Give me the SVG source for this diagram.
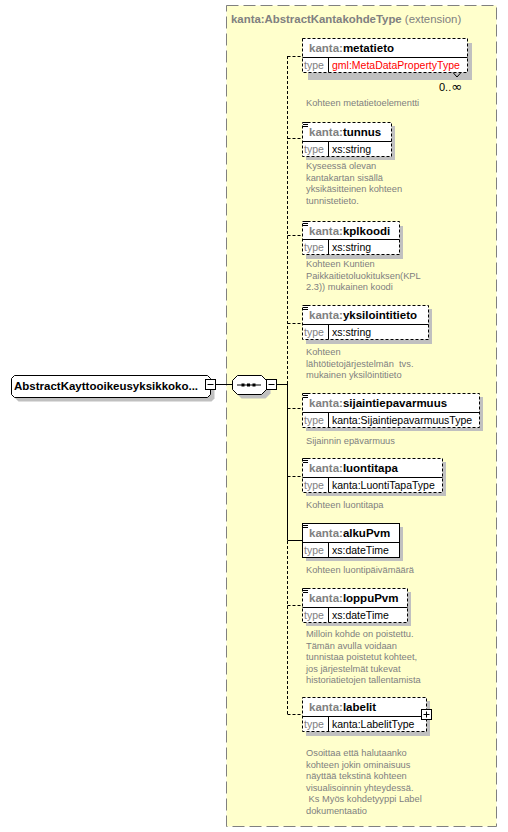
<svg xmlns="http://www.w3.org/2000/svg" width="508" height="832" viewBox="0 0 508 832">
<style>
text{font-family:"Liberation Sans",Arial,sans-serif}
.box{fill:#fff;stroke:#000;stroke-width:1}
.opt{stroke-dasharray:3,2}
.sh{fill:#c0c0c0}
.ln{stroke:#000;stroke-width:1;fill:none}
.dl{stroke:#000;stroke-width:1;fill:none;stroke-dasharray:3,2}
.nm{font-size:11.5px;font-weight:bold;fill:#000}
.pre{fill:#808080}
.tl{font-size:10.5px;fill:#808080}
.tv{font-size:10.5px;fill:#000}
.desc{font-size:9.3px;fill:#808080}
.ico{stroke:#000;stroke-width:1}
</style>
<rect x="0" y="0" width="508" height="832" fill="#fff"/>
<g id="extension">
<rect x="226.5" y="5.5" width="270" height="821" fill="#ffffcc" stroke="#808080" stroke-dasharray="12,5"/>
<text x="231" y="23" font-size="11.4px" fill="#808080"><tspan font-weight="bold">kanta:AbstractKantakohdeType</tspan> (extension)</text>
</g>
<g id="connectors">
<line class="ln" x1="215.5" y1="384.5" x2="232.5" y2="384.5"/>
<line class="ln" x1="276.5" y1="384.5" x2="287.5" y2="384.5"/>
<line class="dl" x1="287.5" y1="56" x2="287.5" y2="384"/>
<line class="ln" x1="287.5" y1="384" x2="287.5" y2="540.5"/>
<line class="dl" x1="287.5" y1="541" x2="287.5" y2="714"/>
<line class="dl" x1="287.5" y1="56.5" x2="302" y2="56.5"/>
<line class="dl" x1="287.5" y1="138.5" x2="302" y2="138.5"/>
<line class="dl" x1="287.5" y1="235.5" x2="302" y2="235.5"/>
<line class="dl" x1="287.5" y1="323.5" x2="302" y2="323.5"/>
<line class="dl" x1="287.5" y1="408.5" x2="302" y2="408.5"/>
<line class="dl" x1="287.5" y1="476.5" x2="302" y2="476.5"/>
<line class="ln" x1="287.5" y1="540.5" x2="302" y2="540.5"/>
<line class="dl" x1="287.5" y1="605.5" x2="302" y2="605.5"/>
<line class="dl" x1="287.5" y1="714.5" x2="302" y2="714.5"/>
</g>
<g id="root">
<polygon class="sh" points="18.5,379.5 211.5,379.5 214.5,382.5 214.5,398.5 211.5,401.5 18.5,401.5 15.5,398.5 15.5,382.5"/>
<polygon class="box" points="14.5,375.5 207.5,375.5 210.5,378.5 210.5,394.5 207.5,397.5 14.5,397.5 11.5,394.5 11.5,378.5"/>
<text class="nm" x="14" y="390">AbstractKayttooikeusyksikkoko...</text>
<rect class="box" x="205.5" y="379.5" width="10" height="10"/>
<line class="ln" x1="207.5" y1="384.5" x2="213.5" y2="384.5"/>
</g>
<g id="sequence">
<polygon class="sh" points="241.5,379.5 265.5,379.5 270.5,384.5 270.5,393.5 265.5,398.5 241.5,398.5 236.5,393.5 236.5,384.5"/>
<polygon class="box" points="237.5,375.5 261.5,375.5 266.5,380.5 266.5,389.5 261.5,394.5 237.5,394.5 232.5,389.5 232.5,380.5"/>
<line class="ln" x1="237" y1="385" x2="261" y2="385"/>
<rect x="241.5" y="383.5" width="3" height="3" fill="#000"/>
<rect x="247" y="383.5" width="3" height="3" fill="#000"/>
<rect x="252.5" y="383.5" width="3" height="3" fill="#000"/>
<rect class="box" x="266.5" y="379.5" width="10" height="10"/>
<line class="ln" x1="268.5" y1="384.5" x2="274.5" y2="384.5"/>
</g>
<g id="metatieto">
<rect class="sh" x="308" y="43" width="164" height="37"/>
<rect class="box opt" x="302.5" y="38.5" width="165" height="34"/>
<line class="ln" x1="302.5" y1="57.5" x2="467.5" y2="57.5" stroke="#404040"/>
<line class="ln" x1="328.5" y1="57.5" x2="328.5" y2="72.5"/>
<path class="ln" d="M453,72.5 L457,77 L461,72.5"/>
<text class="nm" x="309" y="52"><tspan class="pre">kanta:</tspan>metatieto</text>
<text class="tl" x="304" y="69">type</text>
<text class="tv" x="332" y="69" style="fill:#ff0000">gml:MetaDataPropertyType</text>
<text x="439" y="91" font-size="11px" fill="#000">0..<tspan font-family="'DejaVu Sans',sans-serif" font-size="13px">∞</tspan></text>
<text class="desc" x="306" y="106">Kohteen metatietoelementti</text>
</g>
<g id="tunnus">
<rect class="sh" x="306" y="126" width="89" height="34"/>
<rect class="box opt" x="302.5" y="122.5" width="89" height="34"/>
<line class="ln" x1="302.5" y1="141.5" x2="391.5" y2="141.5" stroke="#404040"/>
<line class="ln" x1="328.5" y1="141.5" x2="328.5" y2="156.5"/>
<path class="ico" d="M303,122.5h5M303,124.5h5M303,126.5h5"/>
<text class="nm" x="309" y="136"><tspan class="pre">kanta:</tspan>tunnus</text>
<text class="tl" x="304" y="153">type</text>
<text class="tv" x="332" y="153">xs:string</text>
<text class="desc" x="306" y="169">Kyseessä olevan</text>
<text class="desc" x="306" y="180.5">kantakartan sisällä</text>
<text class="desc" x="306" y="192">yksikäsitteinen kohteen</text>
<text class="desc" x="306" y="203.5">tunnistetieto.</text>
</g>
<g id="kplkoodi">
<rect class="sh" x="306" y="226" width="97" height="33"/>
<rect class="box opt" x="302.5" y="221.5" width="97" height="33"/>
<line class="ln" x1="302.5" y1="239.5" x2="399.5" y2="239.5" stroke="#404040"/>
<line class="ln" x1="328.5" y1="239.5" x2="328.5" y2="254.5"/>
<path class="ico" d="M303,221.5h5M303,223.5h5M303,225.5h5"/>
<text class="nm" x="309" y="235"><tspan class="pre">kanta:</tspan>kplkoodi</text>
<text class="tl" x="304" y="251">type</text>
<text class="tv" x="332" y="251">xs:string</text>
<text class="desc" x="306" y="267">Kohteen Kuntien</text>
<text class="desc" x="306" y="278.5">Paikkaitietoluokituksen(KPL</text>
<text class="desc" x="306" y="290">2.3)) mukainen koodi</text>
</g>
<g id="yksilointitieto">
<rect class="sh" x="306" y="309" width="126" height="35"/>
<rect class="box opt" x="302.5" y="305.5" width="126" height="34"/>
<line class="ln" x1="302.5" y1="324.5" x2="428.5" y2="324.5" stroke="#404040"/>
<line class="ln" x1="328.5" y1="324.5" x2="328.5" y2="339.5"/>
<path class="ico" d="M303,305.5h5M303,307.5h5M303,309.5h5"/>
<text class="nm" x="309" y="319"><tspan class="pre">kanta:</tspan>yksilointitieto</text>
<text class="tl" x="304" y="336">type</text>
<text class="tv" x="332" y="336">xs:string</text>
<text class="desc" x="306" y="355">Kohteen</text>
<text class="desc" x="306" y="366.5" xml:space="preserve">lähtötietojärjestelmän  tvs.</text>
<text class="desc" x="306" y="378">mukainen yksilöintitieto</text>
</g>
<g id="sijaintiepavarmuus">
<rect class="sh" x="306" y="397" width="177" height="34"/>
<rect class="box opt" x="302.5" y="393.5" width="177" height="34"/>
<line class="ln" x1="302.5" y1="412.5" x2="479.5" y2="412.5" stroke="#404040"/>
<line class="ln" x1="328.5" y1="412.5" x2="328.5" y2="427.5"/>
<path class="ico" d="M303,393.5h5M303,395.5h5M303,397.5h5"/>
<text class="nm" x="309" y="407"><tspan class="pre">kanta:</tspan>sijaintiepavarmuus</text>
<text class="tl" x="304" y="424">type</text>
<text class="tv" x="332" y="424">kanta:SijaintiepavarmuusType</text>
<text class="desc" x="306" y="444">Sijainnin epävarmuus</text>
</g>
<g id="luontitapa">
<rect class="sh" x="306" y="462" width="140" height="34"/>
<rect class="box opt" x="302.5" y="458.5" width="140" height="34"/>
<line class="ln" x1="302.5" y1="477.5" x2="442.5" y2="477.5" stroke="#404040"/>
<line class="ln" x1="328.5" y1="477.5" x2="328.5" y2="492.5"/>
<path class="ico" d="M303,458.5h5M303,460.5h5M303,462.5h5"/>
<text class="nm" x="309" y="472"><tspan class="pre">kanta:</tspan>luontitapa</text>
<text class="tl" x="304" y="489">type</text>
<text class="tv" x="332" y="489">kanta:LuontiTapaType</text>
<text class="desc" x="306" y="508">Kohteen luontitapa</text>
</g>
<g id="alkuPvm">
<rect class="sh" x="306" y="527" width="97" height="34"/>
<rect class="box" x="302.5" y="523.5" width="97" height="34"/>
<line class="ln" x1="302.5" y1="542.5" x2="399.5" y2="542.5"/>
<line class="ln" x1="328.5" y1="542.5" x2="328.5" y2="557.5"/>
<path class="ico" d="M303,523.5h5M303,525.5h5M303,527.5h5"/>
<text class="nm" x="309" y="537"><tspan class="pre">kanta:</tspan>alkuPvm</text>
<text class="tl" x="304" y="554">type</text>
<text class="tv" x="332" y="554">xs:dateTime</text>
<text class="desc" x="306" y="573">Kohteen luontipäivämäärä</text>
</g>
<g id="loppuPvm">
<rect class="sh" x="306" y="592" width="105" height="34"/>
<rect class="box opt" x="302.5" y="588.5" width="105" height="34"/>
<line class="ln" x1="302.5" y1="607.5" x2="407.5" y2="607.5" stroke="#404040"/>
<line class="ln" x1="328.5" y1="607.5" x2="328.5" y2="622.5"/>
<path class="ico" d="M303,588.5h5M303,590.5h5M303,592.5h5"/>
<text class="nm" x="309" y="602"><tspan class="pre">kanta:</tspan>loppuPvm</text>
<text class="tl" x="304" y="619">type</text>
<text class="tv" x="332" y="619">xs:dateTime</text>
<text class="desc" x="306" y="637">Milloin kohde on poistettu.</text>
<text class="desc" x="306" y="648.5">Tämän avulla voidaan</text>
<text class="desc" x="306" y="660">tunnistaa poistetut kohteet,</text>
<text class="desc" x="306" y="671.5">jos järjestelmät tukevat</text>
<text class="desc" x="306" y="683">historiatietojen tallentamista</text>
</g>
<g id="labelit">
<rect class="sh" x="306" y="701" width="124" height="35"/>
<rect class="box opt" x="302.5" y="697.5" width="124" height="34"/>
<line class="ln" x1="302.5" y1="716.5" x2="426.5" y2="716.5" stroke="#404040"/>
<line class="ln" x1="328.5" y1="716.5" x2="328.5" y2="731.5"/>
<text class="nm" x="309" y="711"><tspan class="pre">kanta:</tspan>labelit</text>
<text class="tl" x="304" y="728">type</text>
<text class="tv" x="332" y="728">kanta:LabelitType</text>
<rect class="box" x="421.5" y="709.5" width="10" height="10"/>
<path class="ln" d="M423.5,714.5h6M426.5,711.5v6"/>
<text class="desc" x="306" y="756">Osoittaa että halutaanko</text>
<text class="desc" x="306" y="767.5">kohteen jokin ominaisuus</text>
<text class="desc" x="306" y="779">näyttää tekstinä kohteen</text>
<text class="desc" x="306" y="790.5">visualisoinnin yhteydessä.</text>
<text class="desc" x="306" y="802" xml:space="preserve"> Ks Myös kohdetyyppi Label</text>
<text class="desc" x="306" y="813.5">dokumentaatio</text>
</g>
</svg>
